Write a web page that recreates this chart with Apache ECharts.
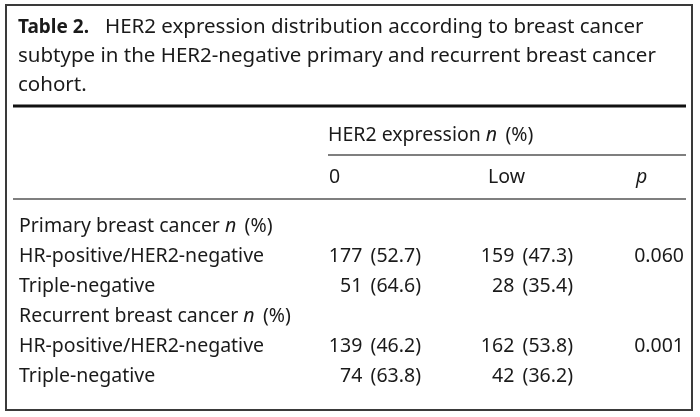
<!DOCTYPE html>
<html>
<head>
<meta charset="utf-8">
<script src="https://cdn.jsdelivr.net/npm/echarts@6/dist/echarts.min.js"></script>
<style>html,body{margin:0;padding:0;background:#fff}#c{width:700px;height:417px}</style>
</head>
<body>
<div id="c"></div>
<script>
// ---- data ----
var titleBold = 'Table 2.';
var titleText = ['HER2 expression distribution according to breast cancer', 'subtype in the HER2-negative primary and recurrent breast cancer', 'cohort.'];
var groupHeader = 'HER2 expression';
var columnHeaders = ['0', 'Low', 'p'];
var rowLabels = ['Primary breast cancer', 'HR-positive/HER2-negative', 'Triple-negative', 'Recurrent breast cancer', 'HR-positive/HER2-negative', 'Triple-negative'];
var rowIsGroup = [true, false, false, true, false, false];
var zeroCounts = [null, 177, 51, null, 139, 74];
var zeroPct = [null, '52.7', '64.6', null, '46.2', '63.8'];
var lowCounts = [null, 159, 28, null, 162, 42];
var lowPct = [null, '47.3', '35.4', null, '53.8', '36.2'];
var pValues = [null, '0.060', null, null, '0.001', null];

// ---- layout (positions/styles) ----
var FONT = 'Noto Sans';
var FS = 19.5;
var TFS = 20.5;
var TXT = '#1a1a1a';
var colAnchor = [19, 421, 573, 684]; // label left, zero right, low right, p right

var chart = echarts.init(document.getElementById('c'), null, {renderer: 'canvas'});

var cellData = rowLabels.map(function (l, i) { return [0, i]; });

function cellText(v, p) { return v == null ? '' : v + '\u2009 (' + p + ')'; }

var option = {
  backgroundColor: '#fff',
  animation: false,
  title: {
    left: 13, top: 8,
    text: '{b|' + titleBold + '}   ' + titleText.join('\n'),
    textStyle: {
      fontFamily: FONT, fontSize: TFS, fontWeight: 'normal', color: TXT, lineHeight: 29,
      rich: { b: { fontFamily: FONT, fontSize: 19, fontWeight: 'bold', color: TXT, lineHeight: 29 } }
    }
  },
  grid: { left: 0, right: 0, top: 211, bottom: 417 - 391 },
  xAxis: { type: 'value', min: 0, max: 700, show: false },
  yAxis: { type: 'category', data: rowLabels, inverse: true, show: false },
  series: [{
    type: 'custom',
    data: cellData,
    renderItem: function (params, api) {
      var i = api.value(1);
      var c = api.coord([0, i]);
      var y = c[1];
      var kids = [];
      var rich = { i: { fontFamily: FONT, fontSize: FS, fontStyle: 'italic', fill: TXT } };
      var lab = rowIsGroup[i] ? rowLabels[i] + ' {i|n} \u2009(%)' : rowLabels[i];
      var xs = colAnchor.map(function (a) { return api.coord([a, i])[0]; });
      kids.push({ type: 'text', style: { x: xs[0], y: y, text: lab, rich: rich, fontFamily: FONT, fontSize: FS, fill: TXT, align: 'left', verticalAlign: 'middle' } });
      kids.push({ type: 'text', style: { x: xs[1], y: y, text: cellText(zeroCounts[i], zeroPct[i]), fontFamily: FONT, fontSize: FS, fill: TXT, align: 'right', verticalAlign: 'middle' } });
      kids.push({ type: 'text', style: { x: xs[2], y: y, text: cellText(lowCounts[i], lowPct[i]), fontFamily: FONT, fontSize: FS, fill: TXT, align: 'right', verticalAlign: 'middle' } });
      kids.push({ type: 'text', style: { x: xs[3], y: y, text: pValues[i] || '', fontFamily: FONT, fontSize: FS, fill: TXT, align: 'right', verticalAlign: 'middle' } });
      return { type: 'group', children: kids };
    }
  }],
  graphic: [
    { type: 'rect', shape: { x: 6, y: 5, width: 686, height: 405 }, style: { fill: 'none', stroke: '#3a3a3a', lineWidth: 2 } },
    { type: 'line', shape: { x1: 13, y1: 106, x2: 686, y2: 106 }, style: { stroke: '#111', lineWidth: 3 } },
    { type: 'text', style: { x: 328, y: 135, text: groupHeader + ' {i|n} \u2009(%)', fontFamily: FONT, fontSize: FS, fill: TXT, verticalAlign: 'middle', rich: { i: { fontFamily: FONT, fontSize: FS, fontStyle: 'italic', fill: TXT } } } },
    { type: 'line', shape: { x1: 328, y1: 155, x2: 686, y2: 155 }, style: { stroke: '#555', lineWidth: 1.5 } },
    { type: 'text', style: { x: 329, y: 177, text: columnHeaders[0], fontFamily: FONT, fontSize: FS, fill: TXT, verticalAlign: 'middle' } },
    { type: 'text', style: { x: 488, y: 177, text: columnHeaders[1], fontFamily: FONT, fontSize: FS, fill: TXT, verticalAlign: 'middle' } },
    { type: 'text', style: { x: 636, y: 177, text: columnHeaders[2], fontFamily: FONT, fontSize: FS, fontStyle: 'italic', fill: TXT, verticalAlign: 'middle' } },
    { type: 'line', shape: { x1: 13, y1: 199, x2: 686, y2: 199 }, style: { stroke: '#555', lineWidth: 1.5 } }
  ]
};
chart.setOption(option);
</script>
</body>
</html>
